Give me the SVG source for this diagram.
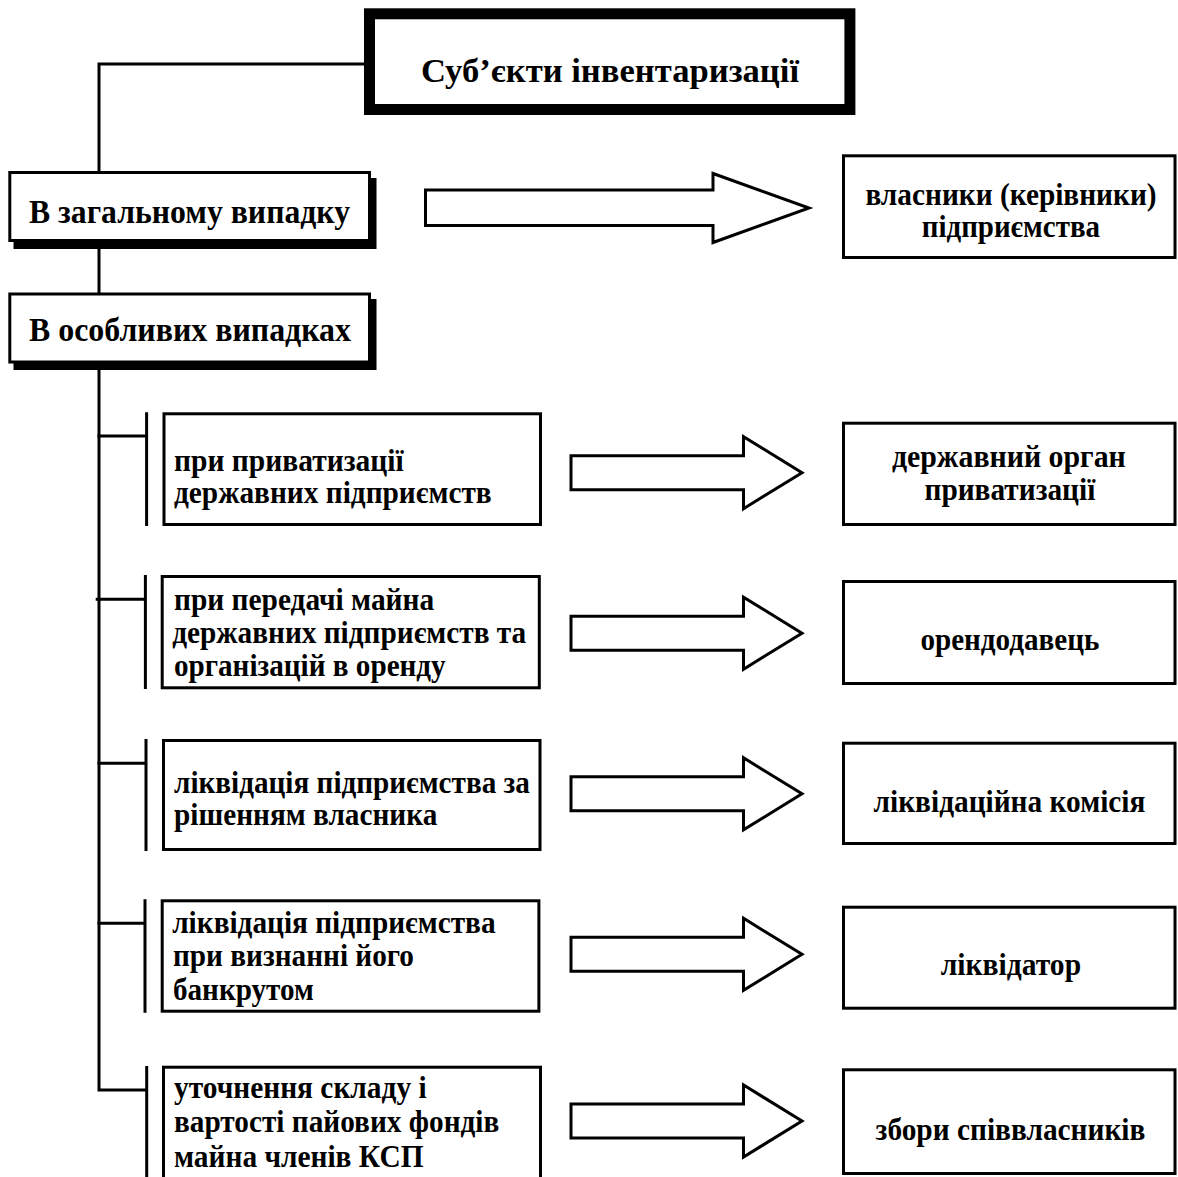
<svg xmlns="http://www.w3.org/2000/svg" width="1178" height="1177" viewBox="0 0 1178 1177">
<style>
.box{fill:#fff;stroke:#000;stroke-width:3}
.title{fill:#fff;stroke:#000;stroke-width:11}
.shadow{fill:#000}
.t{font-family:"Liberation Serif","Times New Roman",serif;font-weight:bold;fill:#000;font-size:31px}
.big{font-size:33px}
.tt{font-size:34px}
.ln{stroke:#000;stroke-width:3;fill:none}
.arrow{fill:#fff;stroke:#000;stroke-width:3;stroke-linejoin:miter}
</style>
<rect width="1178" height="1177" fill="#fff"/>
<g id="connectors">
  <path class="ln" d="M364,64 H99 V172"/>
  <path class="ln" d="M99,242 V293"/>
  <path class="ln" d="M99,363 V1090 H146.7"/>
  <path class="ln" d="M97.5,436 H146.6 M146.6,412.3 V526"/>
  <path class="ln" d="M95.7,599.3 H145.4 M145.4,575 V689"/>
  <path class="ln" d="M97.5,763.3 H146 M146,739 V851"/>
  <path class="ln" d="M97.5,923.3 H145 M145,899.3 V1012.7"/>
  <path class="ln" d="M146.7,1066 V1190"/>
  <path class="arrow" d="M425.5,190 H713 V173.5 L809,208 L713,242.5 V225.5 H425.5 Z"/>
  <path class="arrow" d="M571,455.7 H743.5 V436.7 L802,472.7 L743.5,508.7 V489.7 H571 Z"/>
  <path class="arrow" d="M571,616.2 H743.5 V597.2 L802,633.2 L743.5,669.2 V650.2 H571 Z"/>
  <path class="arrow" d="M571,776.8 H743.5 V757.8 L802,793.8 L743.5,829.8 V810.8 H571 Z"/>
  <path class="arrow" d="M571,937.3 H743.5 V918.3 L802,954.3 L743.5,990.3 V971.3 H571 Z"/>
  <path class="arrow" d="M571,1104 H743.5 V1085 L802,1121 L743.5,1157 V1138 H571 Z"/>
</g>
<g id="title">
  <rect class="title" x="369.5" y="13.8" width="480.4" height="95.7"/>
  <text class="t tt" x="421" y="82" textLength="378" lengthAdjust="spacingAndGlyphs">Суб’єкти інвентаризації</text>
</g>
<g id="general">
  <rect class="shadow" x="13.5" y="178" width="363" height="71"/>
  <rect class="box" x="9.8" y="172.5" width="359.7" height="68"/>
  <text class="t big" x="29" y="223" textLength="321" lengthAdjust="spacingAndGlyphs">В загальному випадку</text>
</g>
<g id="special">
  <rect class="shadow" x="13.5" y="299" width="363" height="71"/>
  <rect class="box" x="9.8" y="294" width="359.7" height="68"/>
  <text class="t big" x="29" y="341" textLength="322" lengthAdjust="spacingAndGlyphs">В особливих випадках</text>
</g>
<g id="case1">
  <rect class="box" x="164" y="413.8" width="376.5" height="110.7"/>
  <text class="t" x="174" y="470.7" textLength="229.7" lengthAdjust="spacingAndGlyphs">при приватизації</text>
  <text class="t" x="174" y="503.3" textLength="317.7" lengthAdjust="spacingAndGlyphs">державних підприємств</text>
</g>
<g id="case2">
  <rect class="box" x="162.2" y="576.5" width="377.1" height="111.3"/>
  <text class="t" x="174" y="610" textLength="260.2" lengthAdjust="spacingAndGlyphs">при передачі майна</text>
  <text class="t" x="172.2" y="643.3" textLength="354" lengthAdjust="spacingAndGlyphs">державних підприємств та</text>
  <text class="t" x="174" y="676" textLength="271.7" lengthAdjust="spacingAndGlyphs">організацій в оренду</text>
</g>
<g id="case3">
  <rect class="box" x="163.5" y="740.5" width="376.5" height="109"/>
  <text class="t" x="174" y="792.7" textLength="355.9" lengthAdjust="spacingAndGlyphs">ліквідація підприємства за</text>
  <text class="t" x="174" y="825" textLength="263.3" lengthAdjust="spacingAndGlyphs">рішенням власника</text>
</g>
<g id="case4">
  <rect class="box" x="162.2" y="900.8" width="376.7" height="110.4"/>
  <text class="t" x="172.2" y="933.3" textLength="323.4" lengthAdjust="spacingAndGlyphs">ліквідація підприємства</text>
  <text class="t" x="173" y="966" textLength="241" lengthAdjust="spacingAndGlyphs">при визнанні його</text>
  <text class="t" x="173" y="1000" textLength="140.8" lengthAdjust="spacingAndGlyphs">банкрутом</text>
</g>
<g id="case5">
  <rect class="box" x="163.5" y="1067.2" width="377" height="130"/>
  <text class="t" x="174" y="1098.3" textLength="252.6" lengthAdjust="spacingAndGlyphs">уточнення складу і</text>
  <text class="t" x="174" y="1131.7" textLength="325.3" lengthAdjust="spacingAndGlyphs">вартості пайових фондів</text>
  <text class="t" x="174" y="1166.7" textLength="249.5" lengthAdjust="spacingAndGlyphs">майна членів КСП</text>
</g>
<g id="owners">
  <rect class="box" x="843.5" y="155.8" width="331.5" height="101.7"/>
  <text class="t" x="865.4" y="205" textLength="291.2" lengthAdjust="spacingAndGlyphs">власники (керівники)</text>
  <text class="t" x="921.8" y="237.3" textLength="178.2" lengthAdjust="spacingAndGlyphs">підприємства</text>
</g>
<g id="privatization-body">
  <rect class="box" x="843.5" y="423.2" width="331.5" height="101.3"/>
  <text class="t" x="891.9" y="466.7" textLength="233.9" lengthAdjust="spacingAndGlyphs">державний орган</text>
  <text class="t" x="924.5" y="500" textLength="170.8" lengthAdjust="spacingAndGlyphs">приватизації</text>
</g>
<g id="lessor">
  <rect class="box" x="843.5" y="581.5" width="331.5" height="102"/>
  <text class="t" x="920.4" y="650" textLength="179" lengthAdjust="spacingAndGlyphs">орендодавець</text>
</g>
<g id="liquidation-commission">
  <rect class="box" x="843.5" y="743.2" width="331.5" height="100.3"/>
  <text class="t" x="873.6" y="811.7" textLength="271.8" lengthAdjust="spacingAndGlyphs">ліквідаційна комісія</text>
</g>
<g id="liquidator">
  <rect class="box" x="843.5" y="907.2" width="331.5" height="101"/>
  <text class="t" x="940.7" y="975" textLength="140.4" lengthAdjust="spacingAndGlyphs">ліквідатор</text>
</g>
<g id="co-owners">
  <rect class="box" x="843.5" y="1069.8" width="331.5" height="103.7"/>
  <text class="t" x="875.6" y="1140" textLength="269.8" lengthAdjust="spacingAndGlyphs">збори співвласників</text>
</g>
</svg>
